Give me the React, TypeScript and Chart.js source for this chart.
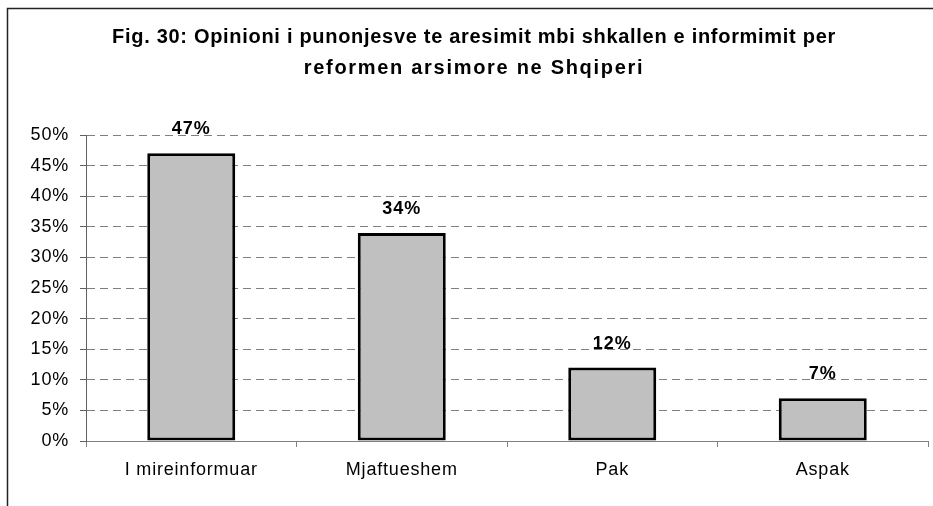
import React, { useEffect, useRef } from "react";
import { Chart, registerables } from "chart.js";

Chart.register(...registerables);

const categories = ["I mireinformuar", "Mjaftueshem", "Pak", "Aspak"];
const values = [47, 34, 12, 7];
const titleLines = [
  "Fig. 30: Opinioni i punonjesve te aresimit mbi shkallen e informimit per",
  "reformen arsimore ne Shqiperi",
];

const FONT = "'Liberation Sans', Arial, Helvetica, sans-serif";

const framePlugin = {
  id: "frame",
  beforeDraw(chart: any) {
    const ctx = chart.ctx;
    ctx.save();
    ctx.fillStyle = "#ffffff";
    ctx.fillRect(0, 0, chart.width, chart.height);
    ctx.strokeStyle = "#222222";
    ctx.lineWidth = 1.5;
    ctx.beginPath();
    ctx.moveTo(7.5, chart.height);
    ctx.lineTo(7.5, 8.5);
    ctx.lineTo(chart.width, 8.5);
    ctx.stroke();
    ctx.restore();
    // slightly wider text spacing, like the original rendering
    ctx.letterSpacing = "0.8px";
  },
  afterDraw(chart: any) {
    const ctx = chart.ctx;
    ctx.save();
    ctx.font = `bold 20px ${FONT}`;
    ctx.fillStyle = "#000000";
    ctx.textAlign = "center";
    ctx.textBaseline = "middle";
    const spacings = ["0.7px", "1.7px"];
    const ys = [37, 68];
    titleLines.forEach((line, i) => {
      ctx.letterSpacing = spacings[i];
      ctx.fillText(line, 474, ys[i]);
    });
    ctx.restore();
    ctx.letterSpacing = "0px";
  },
};

const labelPlugin = {
  id: "barLabels",
  afterDatasetsDraw(chart: any) {
    const ctx = chart.ctx;
    const meta = chart.getDatasetMeta(0);
    ctx.save();
    ctx.font = `bold 18px ${FONT}`;
    ctx.letterSpacing = "1px";
    ctx.fillStyle = "#000000";
    ctx.textAlign = "center";
    ctx.textBaseline = "alphabetic";
    meta.data.forEach((bar: any, i: number) => {
      ctx.fillText(values[i] + "%", bar.x, bar.y - 19);
    });
    ctx.restore();
  },
};

export default function App() {
  const ref = useRef<HTMLCanvasElement>(null);

  useEffect(() => {
    document.body.style.margin = "0";
    const chart = new Chart(ref.current!, {
      type: "bar",
      data: {
        labels: categories,
        datasets: [
          {
            data: values,
            backgroundColor: "#c0c0c0",
            borderColor: "#000000",
            borderWidth: 3,
            borderSkipped: false,
            barPercentage: 0.418,
            categoryPercentage: 1,
          },
        ],
      },
      options: {
        animation: false,
        responsive: false,
        layout: { padding: { left: 20, right: 5, top: 135, bottom: 0 } },
        plugins: {
          legend: { display: false },
          tooltip: { enabled: false },
          title: { display: false },
        },
        scales: {
          x: {
            afterFit(scale: any) {
              scale.height = 65;
            },
            grid: {
              display: true,
              drawOnChartArea: false,
              drawTicks: true,
              tickLength: 6,
              color: "#808080",
              offset: true,
            },
            border: { display: true, color: "#808080", width: 1 },
            ticks: {
              color: "#000000",
              font: { family: FONT, size: 18 },
              padding: 12,
              maxRotation: 0,
            },
          },
          y: {
            min: 0,
            max: 50,
            afterFit(scale: any) {
              scale.width = 66;
            },
            grid: {
              color: "#808080",
              lineWidth: 1,
              tickLength: 6,
              tickColor: "#606060",
              tickBorderDash: [],
            },
            border: { display: true, color: "#606060", width: 1, dash: [8, 5] },
            ticks: {
              stepSize: 5,
              color: "#000000",
              font: { family: FONT, size: 18 },
              padding: 11,
              callback: (v: any) => v + "%",
            },
          },
        },
      },
      plugins: [framePlugin, labelPlugin],
    } as any);
    return () => chart.destroy();
  }, []);

  return (
    <div style={{ position: "absolute", left: 0, top: 0, width: 933, height: 506 }}>
      <canvas ref={ref} width={933} height={506} />
    </div>
  );
}
